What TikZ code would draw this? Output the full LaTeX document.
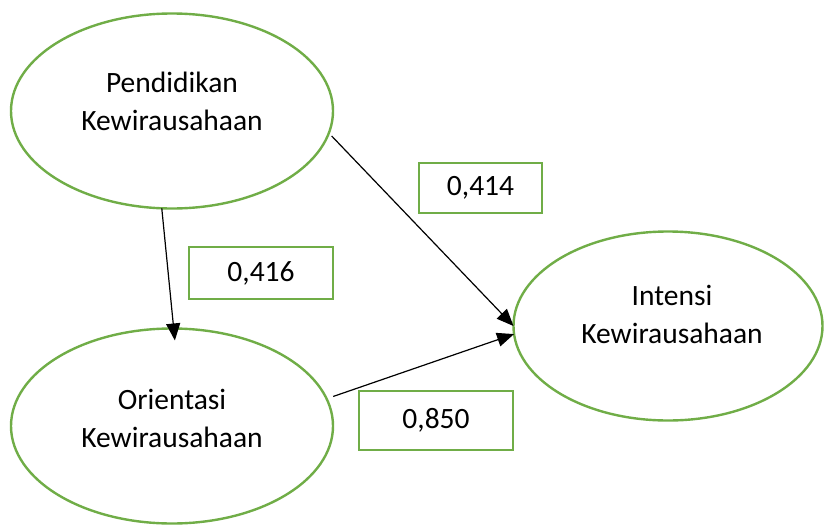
\documentclass[tikz,border=0pt]{standalone}
\usepackage{fontspec}
\setmainfont{Carlito}
\usetikzlibrary{shapes.geometric,arrows.meta}
\definecolor{offgreen}{HTML}{70AD47}
\tikzset{
  ell/.style={ellipse, draw=offgreen, line width=2.4pt, minimum width=322pt, minimum height=195pt, inner sep=0pt, outer sep=0pt},
  txt/.style={align=center, font=\fontsize{29.5}{38}\selectfont, inner sep=0pt},
  valbox/.style={draw=offgreen, line width=2.6pt, font=\fontsize{29.5}{34}\selectfont, inner sep=0pt, outer sep=0pt},
  conn/.style={line width=1.2pt, -{Triangle[length=17pt,width=14pt]}}
}
\begin{document}
\begin{tikzpicture}[x=1pt,y=-1pt]
\useasboundingbox (0,0) rectangle (824,525);
\node[ell] (pk) at (172,111) {};
\node[txt] (pkt) at (172,101) {Pendidikan\\Kewirausahaan};
\node[ell] (ok) at (172,426) {};
\node[txt] (okt) at (172,418) {Orientasi\\Kewirausahaan};
\node[ell, minimum width=309pt, minimum height=189pt] (ik) at (668,326) {};
\node[txt] (ikt) at (672,314) {Intensi\\Kewirausahaan};
\node[valbox, minimum width=123pt, minimum height=50pt] (b1) at (480.5,188) {0,414};
\node[valbox, minimum width=144pt, minimum height=52pt] (b2) at (261,273) {0,416};
\node[valbox, minimum width=154pt, minimum height=59pt] (b3) at (436,420.5) {0,850};
\draw[conn, shorten <=4pt] (pk.-8) -- (ik.west);
\draw[conn, shorten >=-12pt] (pk.264) -- (ok.89);
\draw[conn, shorten <=7pt] (ok.10) -- (ik.183);
\end{tikzpicture}
\end{document}
